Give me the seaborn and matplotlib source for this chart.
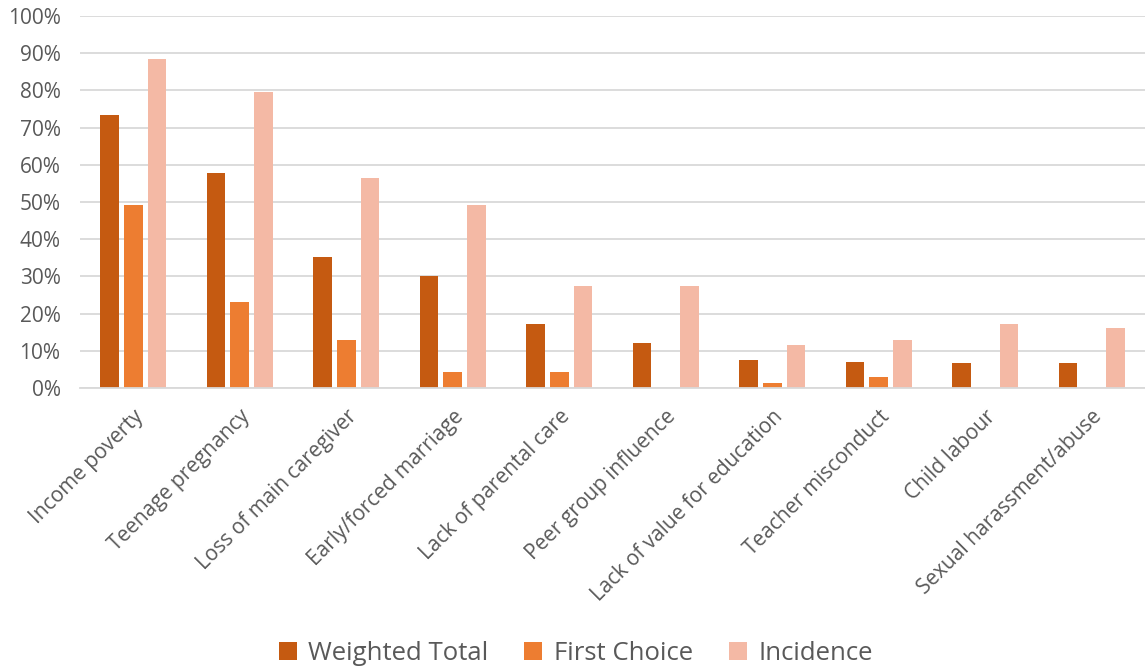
import matplotlib
matplotlib.use("Agg")
import matplotlib.pyplot as plt
import seaborn as sns
import pandas as pd
from matplotlib.ticker import PercentFormatter
from matplotlib.patches import Patch

categories = ["Income poverty", "Teenage pregnancy", "Loss of main caregiver",
              "Early/forced marriage", "Lack of parental care", "Peer group influence",
              "Lack of value for education", "Teacher misconduct", "Child labour",
              "Sexual harassment/abuse"]
weighted_total = [73.4, 57.7, 35.1, 30.1, 17.1, 12.2, 7.5, 7.1, 6.6, 6.6]
first_choice = [49.2, 23.1, 13.0, 4.3, 4.3, 0.0, 1.4, 2.9, 0.0, 0.0]
incidence = [88.4, 79.6, 56.5, 49.2, 27.5, 27.5, 11.5, 13.0, 17.3, 16.0]
series_names = ["Weighted Total", "First Choice", "Incidence"]
colors = ["#C55A11", "#ED7D31", "#F4B9A5"]

df = pd.DataFrame({
    "Category": categories * 3,
    "Series": [series_names[0]] * 10 + [series_names[1]] * 10 + [series_names[2]] * 10,
    "Value": weighted_total + first_choice + incidence,
})

sns.set_theme(style="white")
plt.rcParams["font.family"] = ["Open Sans", "DejaVu Sans"]
txt = "#595959"

fig = plt.figure(figsize=(11.45, 6.72), dpi=100)
ax = fig.add_axes([80 / 1145, 1 - 388 / 672, 1 - 80 / 1145, (388 - 16) / 672])

sns.barplot(data=df, x="Category", y="Value", hue="Series", order=categories,
            hue_order=series_names, palette=colors, width=0.67, gap=0.21,
            saturation=1, linewidth=0, ax=ax, legend=False)

ax.set_ylim(0, 100)
ax.set_yticks(range(0, 101, 10))
ax.yaxis.set_major_formatter(PercentFormatter(decimals=0))
ax.set_xlim(-0.5, len(categories) - 0.5)
ax.grid(axis="y", color="#D9D9D9", linewidth=1.3)
ax.set_axisbelow(True)
for s in ["left", "right", "top"]:
    ax.spines[s].set_visible(False)
ax.spines["bottom"].set_color("#D9D9D9")
ax.spines["bottom"].set_linewidth(1.3)
ax.set_xlabel("")
ax.set_ylabel("")
ax.tick_params(axis="y", length=0, pad=14, labelsize=15, labelcolor=txt)
ax.tick_params(axis="x", length=0, pad=13, labelsize=15, labelcolor=txt)
for lab in ax.get_xticklabels():
    lab.set_rotation(45)
    lab.set_ha("right")
    lab.set_rotation_mode("anchor")

handles = [Patch(facecolor=c, edgecolor="none") for c in colors]
fig.legend(handles, series_names, loc="center", bbox_to_anchor=(0.503, 1 - 653 / 672),
           ncol=3, frameon=False, fontsize=18.5, labelcolor=txt,
           handlelength=0.7, handleheight=0.7, handletextpad=0.45, columnspacing=1.4)

fig.savefig("out.png", dpi=100)
